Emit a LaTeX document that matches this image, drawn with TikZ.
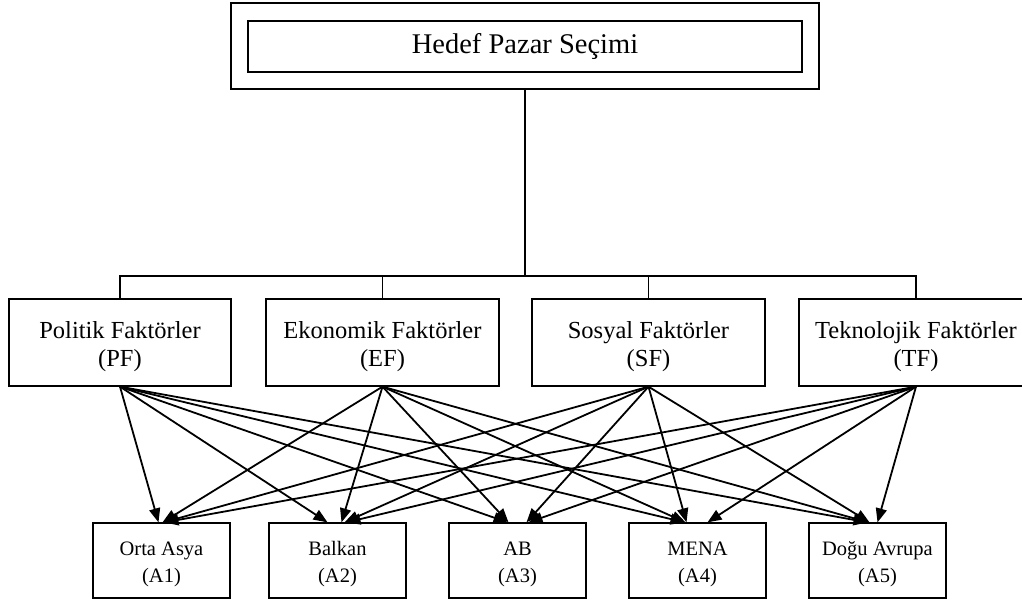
\documentclass[tikz,border=0pt]{standalone}
\usepackage{fontspec}
\setmainfont{Liberation Serif}
\usetikzlibrary{arrows.meta}
\begin{document}
\begin{tikzpicture}[x=1pt,y=-1pt,
  box/.style={draw=black,line width=1.3pt,inner sep=0pt,align=center,anchor=center},
  topbox/.style={box,font=\fontsize{28.5}{32}\selectfont},
  factext/.style={align=center,inner sep=0pt,yshift=-4pt,font=\fontsize{24.5}{28}\selectfont},
  alttext/.style={align=center,inner sep=0pt,yshift=-3.5pt,font=\fontsize{20.5}{27}\selectfont},
  facbox/.style={box,minimum height=87pt},
  altbox/.style={box,minimum width=137pt,minimum height=75pt},
  bus/.style={line width=1.8pt},
  arr/.style={line width=1.8pt,-{Triangle[length=14pt,width=11pt]}}]
\useasboundingbox (0,0) rectangle (1022,603);
\fill[white] (0,0) rectangle (1022,603);
% top
\node[box,minimum width=588pt,minimum height=86pt] (outer) at (525,46) {};
\node[topbox,minimum width=554pt,minimum height=51pt] (top) at (525,46.5) {Hedef Pazar Seçimi};
% factors
\node[facbox,minimum width=222pt,label={[factext]center:Politik Faktörler\\(PF)}] (pf) at (120,342.5) {};
\node[facbox,minimum width=233pt,label={[factext]center:Ekonomik Faktörler\\(EF)}] (ef) at (382.5,342.5) {};
\node[facbox,minimum width=233pt,label={[factext]center:Sosyal Faktörler\\(SF)}] (sf) at (648.5,342.5) {};
\node[facbox,minimum width=234pt,label={[factext]center:Teknolojik Faktörler\\(TF)}] (tf) at (916,342.5) {};
% alternatives
\node[altbox,label={[alttext]center:Orta Asya\\(A1)}] (a1) at (161.5,560.5) {};
\node[altbox,label={[alttext]center:Balkan\\(A2)}] (a2) at (337.5,560.5) {};
\node[altbox,label={[alttext]center:AB\\(A3)}] (a3) at (517.5,560.5) {};
\node[altbox,label={[alttext]center:MENA\\(A4)}] (a4) at (697.5,560.5) {};
\node[altbox,label={[alttext]center:Doğu Avrupa\\(A5)}] (a5) at (877.5,560.5) {};
% tree bus
\coordinate (j) at (525,276);
\draw[bus] (outer.south) -- (j);
\draw[bus] (pf.north) |- (j) -| (tf.north);
\draw[bus] (ef.north) -- (ef.north |- j);
\draw[bus] (sf.north) -- (sf.north |- j);
% arrows to A1
\draw[arr] (pf.south) -- ([xshift=-3pt]a1.north);
\draw[arr] (ef.south) -- ([xshift=1pt]a1.north);
\draw[arr] (sf.south) -- ([xshift=2pt]a1.north);
\draw[arr] (tf.south) -- ([xshift=3pt]a1.north);
% arrows to A2
\draw[arr] (pf.south) -- ([xshift=-10pt]a2.north);
\draw[arr] (ef.south) -- ([xshift=4pt]a2.north);
\draw[arr] (sf.south) -- ([xshift=7pt]a2.north);
\draw[arr] (tf.south) -- ([xshift=9pt]a2.north);
% arrows to A3
\draw[arr] (pf.south) -- ([xshift=-10pt]a3.north);
\draw[arr] (ef.south) -- ([xshift=-9pt]a3.north);
\draw[arr] (sf.south) -- ([xshift=9pt]a3.north);
\draw[arr] (tf.south) -- ([xshift=11pt]a3.north);
% arrows to A4
\draw[arr] (pf.south) -- ([xshift=-13pt]a4.north);
\draw[arr] (ef.south) -- ([xshift=-12pt]a4.north);
\draw[arr] (sf.south) -- ([xshift=-11pt]a4.north);
\draw[arr] (tf.south) -- ([xshift=10pt]a4.north);
% arrows to A5
\draw[arr] (pf.south) -- ([xshift=-10pt]a5.north);
\draw[arr] (ef.south) -- ([xshift=-9pt]a5.north);
\draw[arr] (sf.south) -- ([xshift=-8pt]a5.north);
\draw[arr] (tf.south) -- ([xshift=0pt]a5.north);
\end{tikzpicture}
\end{document}
